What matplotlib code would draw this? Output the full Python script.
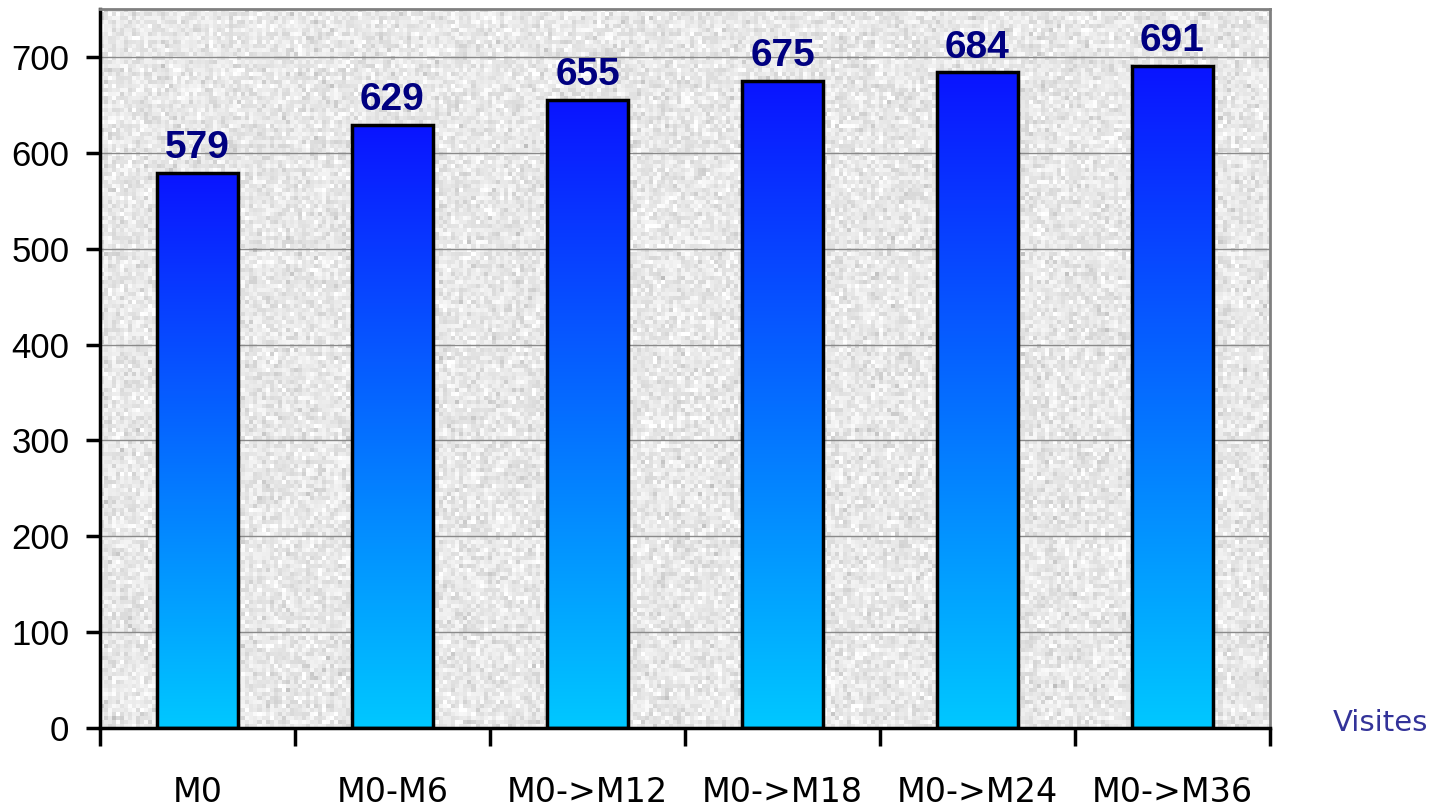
import numpy as np
import matplotlib.pyplot as plt
from matplotlib.colors import LinearSegmentedColormap

categories = ['M0', 'M0-M6', 'M0->M12', 'M0->M18', 'M0->M24', 'M0->M36']
values = [579, 629, 655, 675, 684, 691]
yticks = [0, 100, 200, 300, 400, 500, 600, 700]

fig = plt.figure(figsize=(14.47, 8.11), dpi=100)
ax = fig.add_axes([0.0691, 0.1023, 0.8086, 0.8866])

x = np.arange(len(categories))

# granite-like background texture (decoration only)
rng = np.random.default_rng(3)
tex = 0.91 + 0.045 * rng.standard_normal((180, 290))
tex = np.clip(tex, 0.74, 1.0)
ax.imshow(tex, cmap='gray', vmin=0, vmax=1, extent=(-0.5, 5.5, 0, 750),
          aspect='auto', interpolation='nearest', zorder=0)

for yv in yticks[1:]:
    ax.axhline(yv, color='#8a8a8a', lw=1.0, zorder=1)

grad = LinearSegmentedColormap.from_list('g', ['#00c8ff', '#0a14ff'])
bars = ax.bar(x, values, width=0.42, facecolor='none', edgecolor='black',
              linewidth=2.5, zorder=3)
for b in bars:
    x0 = b.get_x()
    h = b.get_height()
    g = np.linspace(0, 1, 256).reshape(-1, 1)
    im = ax.imshow(g, cmap=grad, origin='lower', aspect='auto',
                   extent=(x0, x0 + b.get_width(), 0, h), zorder=2)
    im.set_clip_path(b)

for xi, v in zip(x, values):
    ax.text(xi, v + 7, str(v), ha='center', va='bottom', fontsize=28,
            fontweight='bold', color='#000080', family='Liberation Sans',
            zorder=4)

ax.set_xlim(-0.5, len(categories) - 0.5)
ax.set_ylim(0, 750)
ax.set_yticks(yticks)
ax.set_yticklabels([str(t) for t in yticks], fontsize=25, family='Liberation Sans')
ax.tick_params(axis='y', length=10, width=2.5, direction='out', pad=12)

ax.set_xticks(np.arange(-0.5, len(categories)), labels=[''] * (len(categories) + 1))
ax.tick_params(axis='x', length=13, width=2.5, direction='out')
for xi, c in zip(x, categories):
    ax.text(xi, -0.09, c, transform=ax.get_xaxis_transform(), ha='center',
            va='center', fontsize=24)

ax.spines['left'].set_linewidth(2.5)
ax.spines['bottom'].set_linewidth(2.5)
ax.spines['top'].set_color('#808080')
ax.spines['right'].set_color('#808080')
ax.spines['top'].set_linewidth(2)
ax.spines['right'].set_linewidth(2)

fig.text(0.954, 0.108, 'Visites', fontsize=21, color='#333399',
         ha='center', va='center')

fig.savefig('out.png', dpi=100)
